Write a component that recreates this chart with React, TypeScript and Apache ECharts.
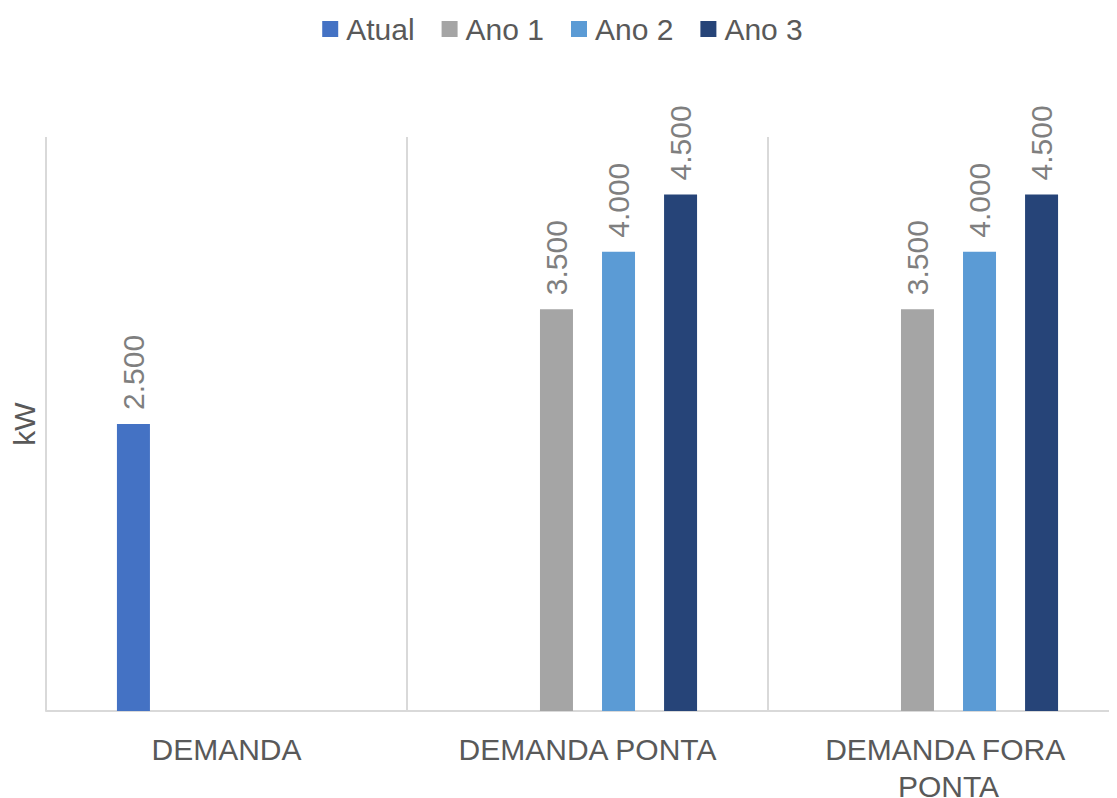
import React, { useEffect, useRef } from "react";
import * as echarts from "echarts";

const categories = ["DEMANDA", "DEMANDA PONTA", "DEMANDA FORA PONTA"];
const seriesNames = ["Atual", "Ano 1", "Ano 2", "Ano 3"];
const atual = [2500, null, null];
const ano1 = [null, 3500, 3500];
const ano2 = [null, 4000, 4000];
const ano3 = [null, 4500, 4500];
const colors = ["#4472C4", "#A5A5A5", "#5B9BD5", "#264478"];
const yName = "kW";

const fmt = (v: number) => v.toLocaleString("pt-BR").replace(",", ".");

export default function App() {
  const ref = useRef<HTMLDivElement>(null);
  useEffect(() => {
    if (!ref.current) return;
    const chart = echarts.init(ref.current, null, { renderer: "svg" });
    const font = "'Liberation Sans', Arial, sans-serif";
    const data = [atual, ano1, ano2, ano3];
    chart.setOption({
      animation: false,
      textStyle: { fontFamily: font },
      legend: {
        top: 1,
        left: "center",
        itemWidth: 16,
        itemHeight: 16,
        itemGap: 27,
        icon: "rect",
        textStyle: { fontSize: 30, color: "#595959", fontFamily: font, padding: [0, 0, 0, 3] },
        data: seriesNames,
      },
      grid: {
        left: 38,
        right: -12,
        top: 129,
        bottom: 87,
        containLabel: false,
        outerBoundsMode: "none",
      },
      xAxis: {
        type: "category",
        data: categories,
        axisLine: { show: true, lineStyle: { color: "#D9D9D9", width: 2 } },
        axisTick: { show: false },
        splitLine: { show: true, lineStyle: { color: "#D9D9D9", width: 2 } },
        axisLabel: {
          fontSize: 30,
          color: "#595959",
          fontFamily: font,
          margin: 20,
          lineHeight: 37,
          width: 340,
          overflow: "break",
          interval: 0,
        },
      },
      yAxis: {
        type: "value",
        min: 0,
        max: 5000,
        interval: 1000,
        name: yName,
        nameLocation: "middle",
        nameGap: 7,
        nameTextStyle: { fontSize: 30, color: "#595959", fontFamily: font },
        axisLabel: { show: false },
        axisLine: { show: false },
        axisTick: { show: false },
        splitLine: { show: false },
      },
      series: seriesNames.map((name, i) => ({
        name,
        type: "bar",
        data: data[i],
        barWidth: 33,
        barGap: "88%",
        itemStyle: { color: colors[i] },
        label: {
          show: true,
          position: "top",
          rotate: 90,
          align: "left",
          verticalAlign: "middle",
          distance: 14,
          fontSize: 30,
          color: "#7F7F7F",
          fontFamily: font,
          formatter: (p: any) => fmt(p.value),
        },
      })),
    });
    return () => chart.dispose();
  }, []);
  return <div ref={ref} style={{ width: 1109, height: 790 }} />;
}
